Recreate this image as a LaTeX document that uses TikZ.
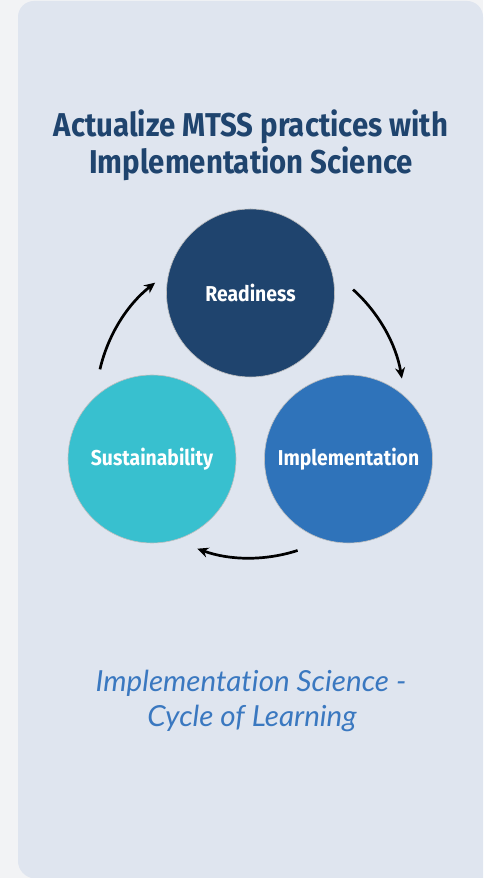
\documentclass[tikz,border=0pt]{standalone}
\usepackage{fontspec}
\usetikzlibrary{arrows.meta,calc}
\newfontfamily\titlefont{Fira Sans}[FakeStretch=0.89]
\newfontfamily\labfont{Fira Sans}[FakeStretch=0.9]
\newfontfamily\subfont{Lato}[FakeStretch=1.02, Ligatures=NoCommon]
\definecolor{pagebg}{HTML}{F2F3F5}
\definecolor{panelc}{HTML}{DFE5EF}
\definecolor{navy}{HTML}{1F446E}
\definecolor{midblue}{HTML}{2F73BA}
\definecolor{teal}{HTML}{38C0CF}
\definecolor{subc}{HTML}{3A78C0}
\tikzset{
  phase/.style={circle, minimum size=168pt, inner sep=0pt, draw=black!25, line width=0.6pt,
    text=white, font=\labfont\bfseries\fontsize{21.5}{25}\selectfont},
  titletext/.style={text=navy, anchor=base, inner sep=0pt, font=\titlefont\bfseries\fontsize{33}{37}\selectfont},
  subtext/.style={text=subc, anchor=base, inner sep=0pt, font=\subfont\itshape\fontsize{29}{35}\selectfont},
  cyclearrow/.style={line width=2.7pt, -{Stealth[length=11pt,width=10pt]}}
}
\begin{document}
\begin{tikzpicture}[x=1pt,y=1pt]
\useasboundingbox (0,0) rectangle (483,878);
\fill[pagebg] (0,0) rectangle (483,878);
\fill[panelc, rounded corners=16pt] (18,1) -- (18,877) -- (483,877) -- (483,-40) -- cycle;
\fill[pagebg] (0,0) rectangle (18,878);
\node[titletext] (title1) at (251,741) {Actualize MTSS practices with};
\node[titletext] (title2) at (251,704) {Implementation Science};
\node[phase, fill=navy] (ready) at (250.5,585) {Readiness};
\node[phase, fill=midblue] (impl) at (348.5,419) {Implementation};
\node[phase, fill=teal] (sust) at (152,419) {Sustainability};
\coordinate (cyc) at (250,474);
\draw[cyclearrow] ($(cyc)+(167:154)$) arc[start angle=167, end angle=128, radius=154];
\draw[cyclearrow] ($(cyc)+(48:154)$) arc[start angle=48, end angle=9.5, radius=154];
\draw[cyclearrow] ($(cyc)+(-72:154)$) arc[start angle=-72, end angle=-110, radius=154];
\node[subtext] (sub1) at (251,186) {Implementation Science -};
\node[subtext] (sub2) at (252,151) {Cycle of Learning};
\end{tikzpicture}
\end{document}
